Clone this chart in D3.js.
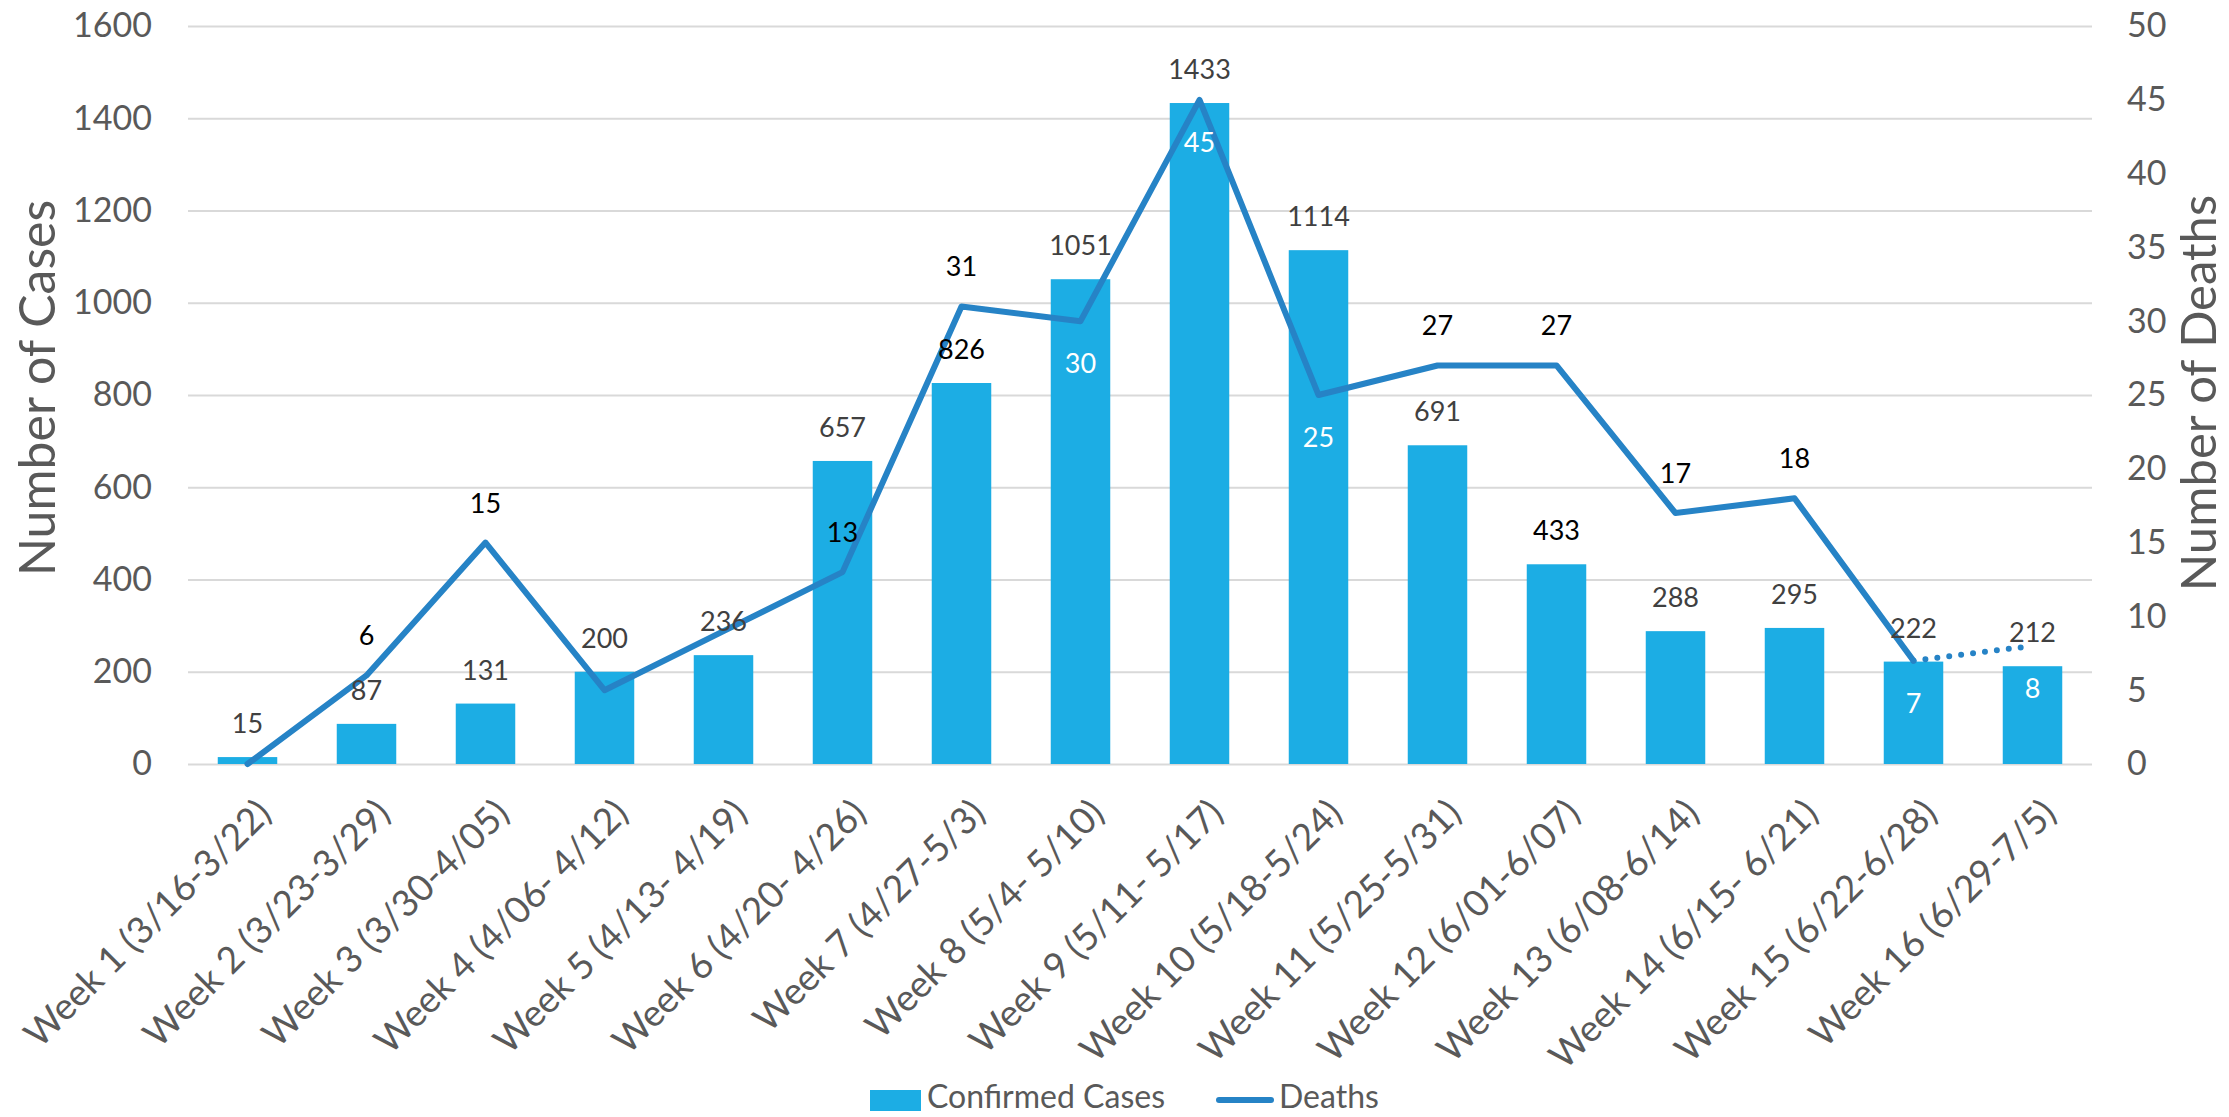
<!DOCTYPE html>
<html>
<head>
<meta charset="utf-8">
<script src="https://d3js.org/d3.v7.min.js"></script>
<style>
  body { margin: 0; background: #fff; }
  svg { display: block; font-family: Lato, "Open Sans", sans-serif; }
</style>
</head>
<body>
<div class="container"></div>
<script>
(function(){

var weeks = ["Week 1 (3/16-3/22)", "Week 2 (3/23-3/29)", "Week 3 (3/30-4/05)", "Week 4 (4/06- 4/12)",
  "Week 5 (4/13- 4/19)", "Week 6 (4/20- 4/26)", "Week 7 (4/27-5/3)", "Week 8 (5/4- 5/10)",
  "Week 9 (5/11- 5/17)", "Week 10 (5/18-5/24)", "Week 11 (5/25-5/31)", "Week 12 (6/01-6/07)",
  "Week 13 (6/08-6/14)", "Week 14 (6/15- 6/21)", "Week 15 (6/22-6/28)", "Week 16 (6/29-7/5)"];
var cases = [15, 87, 131, 200, 236, 657, 826, 1051, 1433, 1114, 691, 433, 288, 295, 222, 212];
var deaths = [0, 6, 15, 5, 9, 13, 31, 30, 45, 25, 27, 27, 17, 18, 7, 8];
// where each deaths label sits: above the point, below it (white), or not shown
var deathLabelPlacement = ["none", "above", "above", "none", "none", "above", "above", "below",
  "below", "below", "above", "above", "above", "above", "below", "below"];
var casesTicks = [0, 200, 400, 600, 800, 1000, 1200, 1400, 1600];
var deathsTicks = [0, 5, 10, 15, 20, 25, 30, 35, 40, 45, 50];
var darkCaseLabels = [826, 433];

var width = 2229,
    height = 1117,
    plotLeft = 188,
    plotRight = 2092,
    plotTop = 26,
    plotBottom = 764;

var barColor = "#1CADE4",
    lineColor = "#2683C6",
    gridColor = "#D9D9D9",
    axisText = "#595959",
    labelText = "#404040";

var svg = d3.select(".container")
  .append("svg")
  .attr("width", width)
  .attr("height", height);

var x = d3.scaleBand()
  .domain(weeks)
  .range([plotLeft, plotRight])
  .paddingInner(0.5)
  .paddingOuter(0.25);

var yCases = d3.scaleLinear()
  .domain([0, 1600])
  .range([plotBottom, plotTop]);

var yDeaths = d3.scaleLinear()
  .domain([0, 50])
  .range([plotBottom, plotTop]);

// gridlines
svg.append("g")
  .attr("transform", "translate(" + plotLeft + ",0)")
  .call(d3.axisLeft(yCases).tickValues(casesTicks).tickSize(-(plotRight - plotLeft)).tickFormat(""))
  .call(function(g){
    g.select(".domain").remove();
    g.selectAll("line").attr("stroke", gridColor).attr("stroke-width", 2);
  });

// left axis labels
svg.append("g")
  .attr("transform", "translate(" + plotLeft + ",0)")
  .call(d3.axisLeft(yCases).tickValues(casesTicks).tickSize(0).tickPadding(36).tickFormat(d3.format("d")))
  .call(function(g){
    g.select(".domain").remove();
    g.selectAll("text")
      .attr("font-size", 34)
      .attr("font-family", "Lato, sans-serif")
      .attr("fill", axisText);
  });

// right axis labels
svg.append("g")
  .attr("transform", "translate(" + plotRight + ",0)")
  .call(d3.axisRight(yDeaths).tickValues(deathsTicks).tickSize(0).tickPadding(35))
  .call(function(g){
    g.select(".domain").remove();
    g.selectAll("text")
      .attr("font-size", 34)
      .attr("font-family", "Lato, sans-serif")
      .attr("fill", axisText);
  });

// category axis
svg.append("g")
  .attr("transform", "translate(0," + plotBottom + ")")
  .call(d3.axisBottom(x).tickSize(0).tickPadding(0))
  .call(function(g){
    g.select(".domain").remove();
    g.selectAll("text")
      .attr("font-size", 37)
      .attr("font-family", "Lato, sans-serif")
      .attr("fill", axisText)
      .attr("text-anchor", "end")
      .attr("dy", null)
      .attr("y", 0)
      .attr("dominant-baseline", "middle")
      .attr("transform", "translate(19,45) rotate(-45)");
  });

// bars
svg.selectAll(".bar")
  .data(cases)
  .enter()
  .append("rect")
  .attr("class", "bar")
  .attr("x", function(d, i){ return x(weeks[i]); })
  .attr("y", function(d){ return yCases(d); })
  .attr("width", x.bandwidth())
  .attr("height", function(d){ return plotBottom - yCases(d); })
  .attr("fill", barColor);

// deaths line (last week dotted)
var line = d3.line()
  .x(function(d){ return x(weeks[d.i]) + x.bandwidth() / 2; })
  .y(function(d){ return yDeaths(d.v); });

var pts = deaths.map(function(v, i){ return {i: i, v: v}; });

svg.append("path")
  .datum(pts.slice(0, pts.length - 1))
  .attr("d", line)
  .attr("fill", "none")
  .attr("stroke", lineColor)
  .attr("stroke-width", 6)
  .attr("stroke-linejoin", "round")
  .attr("stroke-linecap", "round");

svg.append("path")
  .datum(pts.slice(pts.length - 2))
  .attr("d", line)
  .attr("fill", "none")
  .attr("stroke", lineColor)
  .attr("stroke-width", 6)
  .attr("stroke-linecap", "round")
  .attr("stroke-dasharray", "0 12");

// cases labels
svg.selectAll(".caseLabel")
  .data(cases)
  .enter()
  .append("text")
  .attr("class", "caseLabel")
  .attr("x", function(d, i){ return x(weeks[i]) + x.bandwidth() / 2; })
  .attr("y", function(d){ return yCases(d) - 24; })
  .attr("text-anchor", "middle")
  .attr("font-size", 27)
  .attr("fill", function(d){ return darkCaseLabels.indexOf(d) >= 0 ? "#000" : labelText; })
  .text(function(d){ return d; });

// deaths labels
svg.selectAll(".deathLabel")
  .data(pts.filter(function(d){ return deathLabelPlacement[d.i] != "none"; }))
  .enter()
  .append("text")
  .attr("class", "deathLabel")
  .attr("x", function(d){ return x(weeks[d.i]) + x.bandwidth() / 2; })
  .attr("y", function(d){
    return deathLabelPlacement[d.i] == "above" ? yDeaths(d.v) - 30 : yDeaths(d.v) + 52;
  })
  .attr("text-anchor", "middle")
  .attr("font-size", 27)
  .attr("fill", function(d){ return deathLabelPlacement[d.i] == "above" ? "#000" : "#fff"; })
  .text(function(d){ return d.v; });

// axis titles
svg.append("text")
  .attr("transform", "translate(55,388) rotate(-90)")
  .attr("text-anchor", "middle")
  .attr("font-size", 50)
  .attr("fill", axisText)
  .text("Number of Cases");

svg.append("text")
  .attr("transform", "translate(2216,393) rotate(-90)")
  .attr("text-anchor", "middle")
  .attr("font-size", 49)
  .attr("fill", axisText)
  .text("Number of Deaths");

// legend
var legend = svg.append("g");
legend.append("rect")
  .attr("x", 870)
  .attr("y", 1090)
  .attr("width", 51)
  .attr("height", 21)
  .attr("fill", barColor);
legend.append("text")
  .attr("x", 927)
  .attr("y", 1108)
  .attr("font-size", 32)
  .attr("fill", axisText)
  .text("Confirmed Cases");
legend.append("line")
  .attr("x1", 1219)
  .attr("x2", 1271)
  .attr("y1", 1100)
  .attr("y2", 1100)
  .attr("stroke", lineColor)
  .attr("stroke-width", 6)
  .attr("stroke-linecap", "round");
legend.append("text")
  .attr("x", 1279)
  .attr("y", 1108)
  .attr("font-size", 32)
  .attr("fill", axisText)
  .text("Deaths");

})();
</script>
</body>
</html>
